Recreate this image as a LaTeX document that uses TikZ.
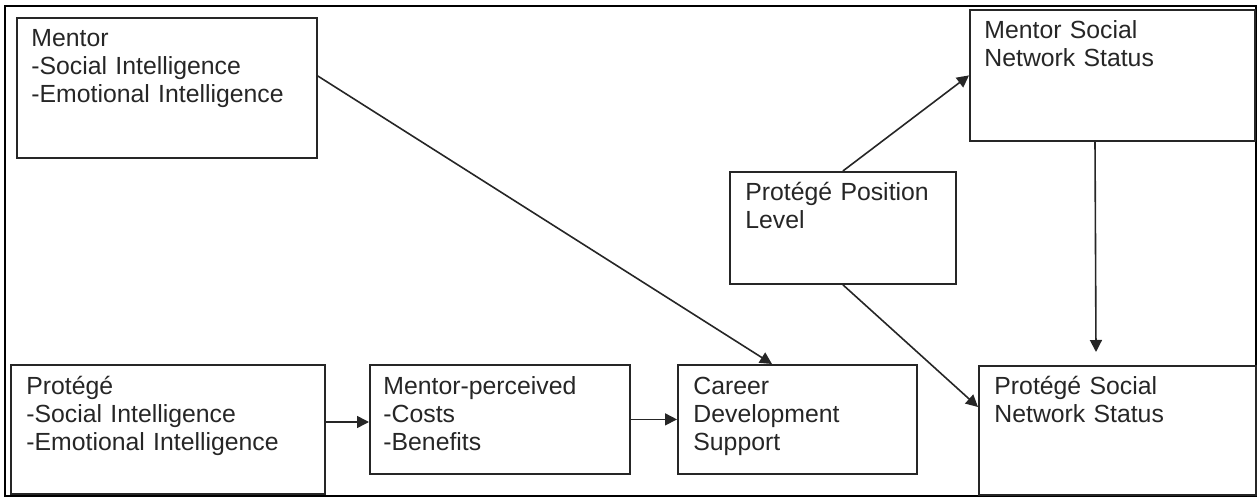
\documentclass[tikz,border=0pt]{standalone}
\usepackage{fontspec}
\setmainfont{Liberation Sans}
\usetikzlibrary{arrows.meta,calc}
\definecolor{ink}{HTML}{262626}
\begin{document}
\begin{tikzpicture}[x=0.5pt,y=-0.5pt,
  boxnode/.style={draw=ink,line width=0.9pt,inner sep=0pt,anchor=north west},
  txt/.style={anchor=base west,inner sep=0pt,align=left,text width=140pt,text=ink,
    font=\fontsize{12.4}{14}\selectfont},
  conn/.style={draw=ink,line width=0.8pt,-{Triangle[length=6pt,width=6pt]}}]
\useasboundingbox (0,0) rectangle (1258,497);
\draw[black,line width=1pt] (5,6) rectangle (1256,496);
% boxes
\node[boxnode,minimum width=150pt,minimum height=70pt] (mentor) at (16,17) {};
\node[boxnode,minimum width=157pt,minimum height=64.5pt] (protege) at (10,364) {};
\node[boxnode,minimum width=130pt,minimum height=54.5pt] (perceived) at (369,364) {};
\node[boxnode,minimum width=119.5pt,minimum height=54.5pt] (career) at (677,364) {};
\node[boxnode,minimum width=113pt,minimum height=56pt] (position) at (729,171) {};
\node[boxnode,minimum width=142.5pt,minimum height=65.5pt] (mentorsoc) at (969,9) {};
\node[boxnode,minimum width=138.5pt,minimum height=64.5pt] (protsoc) at (978,365) {};
% texts
\node[txt] (tmentor) at ($(mentor.north west)+(15,30)$) {Mentor\\-Social Intelligence\\-Emotional Intelligence};
\node[txt] (tprotege) at ($(protege.north west)+(16,30)$) {Protégé\\-Social Intelligence\\-Emotional Intelligence};
\node[txt] (tperceived) at ($(perceived.north west)+(14,30)$) {Mentor-perceived\\-Costs\\-Benefits};
\node[txt] (tcareer) at ($(career.north west)+(16,30)$) {Career\\Development\\Support};
\node[txt] (tposition) at ($(position.north west)+(16,30)$) {Protégé Position\\Level};
\node[txt] (tmentorsoc) at ($(mentorsoc.north west)+(15,30)$) {Mentor Social\\Network Status};
\node[txt] (tprotsoc) at ($(protsoc.north west)+(16,29)$) {Protégé Social\\Network Status};
% connectors
\coordinate (mentorout) at ($(mentor.north east)+(0,59)$);
\coordinate (careerin) at ($(career.north west)+(95,0)$);
\draw[conn] (mentorout) -- (careerin);
\coordinate (protout) at ($(protege.north east)+(0,58)$);
\draw[conn] (protout) -- (protout -| perceived.west);
\draw[conn] (perceived.east) -- (perceived.east -| career.west);
\draw[conn] (position.north) -- (mentorsoc.west);
\coordinate (protsocin) at ($(protsoc.north west)+(0,42)$);
\draw[conn] (position.south) -- (protsocin);
\coordinate (msout) at ($(mentorsoc.south west)+(126,0)$);
\coordinate (msend) at ($(protsoc.north west)+(118,-13)$);
\draw[conn] (msout) -- (msend);
\end{tikzpicture}
\end{document}
